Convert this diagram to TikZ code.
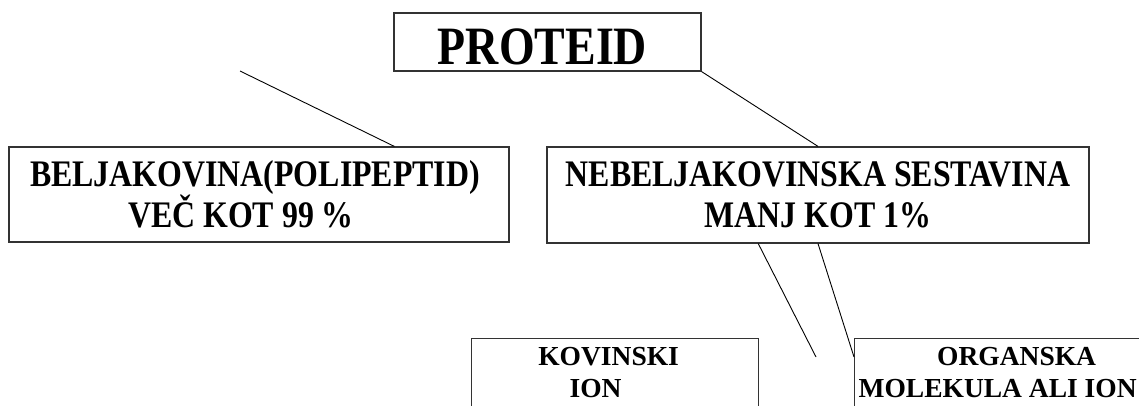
\documentclass[tikz,border=0pt]{standalone}
\usepackage{fontspec}
\usepackage{tikz}
\usetikzlibrary{calc}

\newfontfamily\boxfont[FakeStretch=0.85]{Liberation Serif}
\newfontfamily\smallboxfont{Liberation Serif}

\begin{document}
\begin{tikzpicture}[x=1pt, y=-1pt,
    box/.style={draw=black!80, line width=1.2pt, align=center, inner sep=0pt},
    bigfont/.style={font=\boxfont\bfseries\fontsize{37.5}{41}\selectfont},
    smallfont/.style={font=\smallboxfont\bfseries\fontsize{27.5}{32}\selectfont},
    link/.style={line width=0.9pt}]
    \useasboundingbox (0,0) rectangle (1139,406);
    \clip (0,0) rectangle (1139,406);

    \node[box, minimum width=307pt, minimum height=58pt, text height=46pt, text depth=0pt,
        font=\boxfont\bfseries\fontsize{54}{60}\selectfont] (proteid) at (547.5,42)
        {PROTEID\hspace*{10pt}};

    \node[box, bigfont, minimum width=500pt, minimum height=95pt] (belj) at (259,194.5)
        {BELJAKOVINA(POLIPEPTID)\hspace*{8pt}\\VEČ KOT 99 \%\hspace*{36pt}};
    \node[box, bigfont, minimum width=542pt, minimum height=96pt] (nebel) at (818,195)
        {NEBELJAKOVINSKA SESTAVINA\\MANJ KOT 1\%};

    \node[box, smallfont, anchor=north west, minimum width=287pt, inner ysep=9pt,
        text depth=25pt] (kovin) at (471,338) {KOVINSKI\hspace*{13pt}\\ION\hspace*{39pt}};
    \node[box, smallfont, anchor=north west, minimum width=286pt, inner ysep=9pt,
        text depth=25pt] (organ) at (854,338) {\hspace*{38pt}ORGANSKA\\MOLEKULA ALI ION};

    % loose line ends
    \coordinate (lfree) at (240,71);
    \coordinate (kfree) at (816,357);

    \draw[link] (lfree) -- ($(belj.north west)!0.77!(belj.north east)$);
    \draw[link] (proteid.south east) -- (nebel.north);
    \draw[link] ($(nebel.south west)!0.39!(nebel.south east)$) -- (kfree);
    \draw[link] (nebel.south) -- ($(organ.north west)+(0,19)$);
\end{tikzpicture}
\end{document}
